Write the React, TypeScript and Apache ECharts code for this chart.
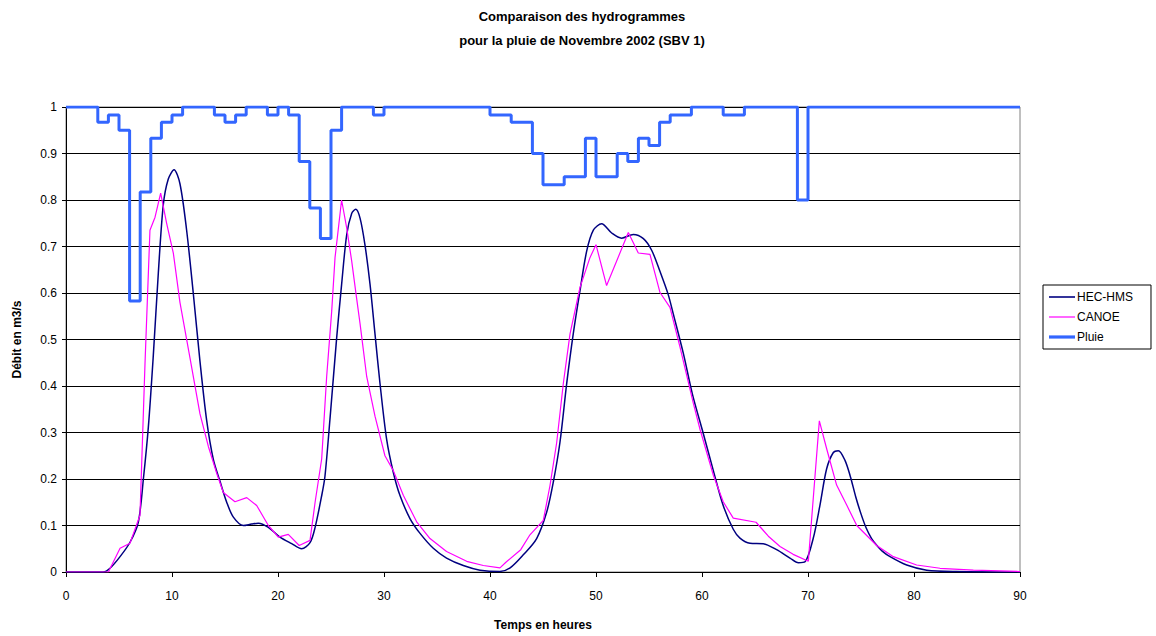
import React, { useEffect, useRef } from "react";
import * as echarts from "echarts";

// Hour ticks of the time axis
const hourTicks = [0, 10, 20, 30, 40, 50, 60, 70, 80, 90];

// Simulated discharge, HEC-HMS model: [hour, m3/s]
const hecHms: [number, number][] = [
  [0, 0], [3.5, 0], [4.15, 0.008], [5.1, 0.033], [6.04, 0.064], [6.82, 0.107],
  [7.3, 0.2], [7.77, 0.312], [8.24, 0.467], [8.71, 0.643], [9.18, 0.79],
  [9.65, 0.845], [10.19, 0.865], [10.75, 0.835], [11.38, 0.735], [12.0, 0.601],
  [12.64, 0.453], [13.27, 0.326], [13.9, 0.242], [14.53, 0.195], [15.16, 0.15],
  [15.79, 0.118], [16.73, 0.1], [17.5, 0.103], [18.14, 0.105], [19.09, 0.096],
  [20.19, 0.075], [21.29, 0.061], [22.23, 0.05], [23.02, 0.063], [23.49, 0.095],
  [24.12, 0.164], [24.43, 0.206], [24.9, 0.328], [25.54, 0.505], [26.0, 0.618],
  [26.48, 0.725], [26.95, 0.771], [27.33, 0.78], [27.74, 0.761], [28.2, 0.704],
  [28.68, 0.619], [29.15, 0.512], [29.62, 0.406], [30.25, 0.285], [30.88, 0.214],
  [31.5, 0.165], [32.45, 0.115], [33.4, 0.083], [34.65, 0.051], [35.9, 0.03],
  [37.48, 0.014], [39.06, 0.004], [40.94, 0.001], [41.9, 0.009], [43.14, 0.037],
  [44.4, 0.072], [45.35, 0.129], [45.97, 0.193], [46.6, 0.279], [47.24, 0.406],
  [47.86, 0.513], [48.49, 0.605], [49.12, 0.69], [49.75, 0.735], [50.53, 0.749],
  [51.48, 0.729], [52.42, 0.718], [53.52, 0.726], [54.47, 0.717], [55.25, 0.692],
  [56.04, 0.646], [56.82, 0.596], [57.29, 0.555], [58.24, 0.47], [59.1, 0.382],
  [60.12, 0.298], [61.07, 0.218], [62.0, 0.143], [62.95, 0.092], [63.58, 0.073],
  [64.53, 0.062], [65.78, 0.061], [67.04, 0.048], [68.3, 0.03], [69.1, 0.02],
  [69.72, 0.022], [70.5, 0.073], [71.13, 0.144], [71.76, 0.222], [72.39, 0.257],
  [72.86, 0.261], [73.49, 0.24], [74.0, 0.205], [74.5, 0.162], [75.0, 0.125],
  [75.5, 0.094], [76.0, 0.072], [76.5, 0.057], [77.0, 0.045], [77.74, 0.033],
  [79.31, 0.015], [81.2, 0.004], [84, 0.001], [90, 0],
];

// Simulated discharge, CANOE model: [hour, m3/s]
const canoe: [number, number][] = [
  [0, 0], [4.0, 0], [5.1, 0.051], [6.04, 0.062], [6.98, 0.122], [7.45, 0.446],
  [7.92, 0.735], [8.4, 0.763], [8.93, 0.815], [9.5, 0.749], [10.13, 0.685],
  [10.75, 0.58], [11.7, 0.46], [12.64, 0.34], [13.43, 0.27], [14.21, 0.213],
  [14.84, 0.171], [15.94, 0.151], [17.05, 0.16], [17.99, 0.143], [19.09, 0.1],
  [20.03, 0.075], [20.97, 0.081], [22.0, 0.057], [23.02, 0.068], [23.5, 0.15],
  [24.12, 0.243], [24.59, 0.42], [25.07, 0.562], [25.38, 0.676], [26.0, 0.8],
  [26.48, 0.74], [26.95, 0.669], [27.36, 0.598], [27.74, 0.534], [28.37, 0.42],
  [29.15, 0.335], [30.09, 0.25], [30.88, 0.218], [31.82, 0.165], [33.08, 0.108],
  [34.34, 0.072], [35.9, 0.044], [37.8, 0.023], [39.37, 0.014], [40.94, 0.009],
  [41.5, 0.021], [42.9, 0.048], [43.77, 0.08], [45.03, 0.111], [45.66, 0.186],
  [46.29, 0.278], [46.92, 0.406], [47.55, 0.512], [48.02, 0.562], [48.49, 0.612],
  [49.43, 0.676], [50.0, 0.704], [51.0, 0.616], [53.05, 0.73], [53.99, 0.686],
  [55.09, 0.683], [56.04, 0.601], [56.98, 0.569], [57.92, 0.484], [59.18, 0.363],
  [59.81, 0.307], [61.07, 0.208], [62.0, 0.151], [62.95, 0.116], [65.1, 0.107],
  [66.26, 0.077], [67.36, 0.055], [68.6, 0.038], [70.03, 0.023], [71.07, 0.325],
  [71.76, 0.265], [72.7, 0.187], [73.65, 0.144], [74.6, 0.1], [76.48, 0.057],
  [78.05, 0.033], [80.25, 0.015], [82.45, 0.008], [85.6, 0.004], [90, 0.001],
];

// Hourly rainfall indicator (inverted scale, 1 = no rain), hours 0..90
const pluie: number[] = [
  1, 1, 1, 0.967, 0.983, 0.95, 0.583, 0.817, 0.933, 0.967,
  0.983, 1, 1, 1, 0.983, 0.967, 0.983, 1, 1, 0.983,
  1, 0.983, 0.883, 0.783, 0.717, 0.95, 1, 1, 1, 0.983,
  1, 1, 1, 1, 1, 1, 1, 1, 1, 1,
  0.983, 0.983, 0.967, 0.967, 0.9, 0.833, 0.833, 0.85, 0.85, 0.933,
  0.85, 0.85, 0.9, 0.883, 0.933, 0.917, 0.967, 0.983, 0.983, 1,
  1, 1, 0.983, 0.983, 1, 1, 1, 1, 1, 0.8,
  1, 1, 1, 1, 1, 1, 1, 1, 1, 1,
  1, 1, 1, 1, 1, 1, 1, 1, 1, 1,
  1,
];

const FONT = "'Liberation Sans', Arial, sans-serif";

// Thin bar icons for the legend (line samples of different weights)
const lineIcon = (h: number) => `path://M0,0H26V${h}H0Z`;

export default function App() {
  const ref = useRef<HTMLDivElement>(null);

  useEffect(() => {
    if (!ref.current) return;
    const chart = echarts.init(ref.current, undefined, { renderer: "svg" });
    const pluieData = pluie.map((v, h) => [h, v]);

    chart.setOption({
      animation: false,
      backgroundColor: "#ffffff",
      textStyle: { fontFamily: FONT, color: "#000" },
      title: {
        text: "Comparaison des hydrogrammes\npour la pluie de Novembre 2002 (SBV 1)",
        left: 577,
        top: -1,
        textAlign: "center",
        textStyle: {
          fontFamily: FONT,
          fontSize: 13,
          fontWeight: "bold",
          color: "#000",
          lineHeight: 24,
        },
      },
      legend: {
        orient: "vertical",
        left: 1043,
        top: 285,
        data: [
          { name: "HEC-HMS", icon: lineIcon(1.6) },
          { name: "CANOE", icon: lineIcon(1.2) },
          { name: "Pluie", icon: lineIcon(3.2) },
        ],
        itemWidth: 26,
        itemHeight: 14,
        itemGap: 8,
        symbolKeepAspect: true,
        padding: [6, 18, 6, 6],
        borderColor: "#000",
        borderWidth: 1,
        textStyle: { fontFamily: FONT, fontSize: 12, color: "#000", padding: [0, 0, 0, -3] },
      },
      grid: {
        left: 66,
        right: 136,
        top: 107,
        bottom: 59,
        show: true,
        borderColor: "#808080",
        borderWidth: 1,
        backgroundColor: "#ffffff",
      },
      xAxis: {
        type: "value",
        min: hourTicks[0],
        max: hourTicks[hourTicks.length - 1],
        interval: 10,
        name: "Temps en heures",
        nameLocation: "middle",
        nameGap: 47,
        nameTextStyle: { fontFamily: FONT, fontSize: 12, fontWeight: "bold", color: "#000" },
        axisLine: { show: true, onZero: false, lineStyle: { color: "#000", width: 1 } },
        axisTick: { show: true, length: 5, lineStyle: { color: "#000" } },
        axisLabel: { fontFamily: FONT, fontSize: 12, color: "#000", margin: 18 },
        splitLine: { show: false },
      },
      yAxis: {
        type: "value",
        min: 0,
        max: 1,
        interval: 0.1,
        name: "Débit en m3/s",
        nameLocation: "middle",
        nameGap: 43,
        nameRotate: 90,
        nameTextStyle: { fontFamily: FONT, fontSize: 12, fontWeight: "bold", color: "#000" },
        axisLine: { show: true, lineStyle: { color: "#000", width: 1 } },
        axisTick: { show: true, length: 4, lineStyle: { color: "#000" } },
        axisLabel: { fontFamily: FONT, fontSize: 12, color: "#000", margin: 9 },
        splitLine: { show: true, lineStyle: { color: "#000", width: 1 } },
      },
      series: [
        {
          name: "HEC-HMS",
          type: "line",
          data: hecHms,
          symbol: "none",
          smooth: 0.3,
          lineStyle: { color: "#000080", width: 1.5 },
          itemStyle: { color: "#000080" },
          z: 3,
        },
        {
          name: "CANOE",
          type: "line",
          data: canoe,
          symbol: "none",
          lineStyle: { color: "#ff00ff", width: 1.2 },
          itemStyle: { color: "#ff00ff" },
          z: 4,
        },
        {
          name: "Pluie",
          type: "line",
          data: pluieData,
          step: "end",
          symbol: "none",
          lineStyle: { color: "#3366ff", width: 3 },
          itemStyle: { color: "#3366ff" },
          z: 5,
        },
      ],
    });

    return () => chart.dispose();
  }, []);

  return (
    <div
      ref={ref}
      style={{ position: "fixed", left: 0, top: 0, width: 1156, height: 636 }}
    />
  );
}
